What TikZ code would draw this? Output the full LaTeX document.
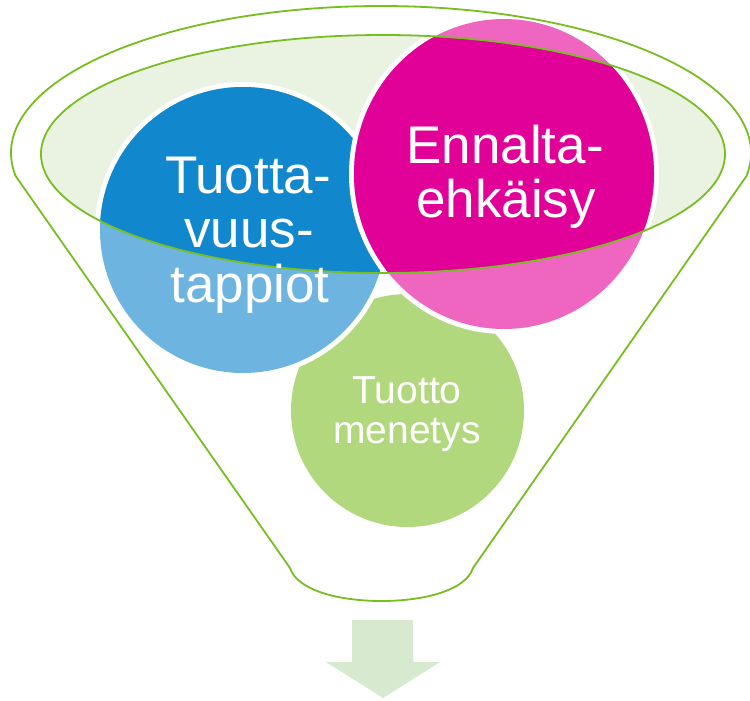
\documentclass[tikz,border=0pt]{standalone}
\usepackage{fontspec}
\setmainfont{Liberation Sans}
\definecolor{bluedark}{HTML}{1187CE}
\definecolor{bluelight}{HTML}{6EB4E1}
\definecolor{pinkdark}{HTML}{E10098}
\definecolor{pinklight}{HTML}{EE66C0}
\definecolor{greenc}{HTML}{B1D87C}
\definecolor{ellfill}{HTML}{EAF2E2}
\definecolor{linegreen}{HTML}{78BE20}
\definecolor{arrowc}{HTML}{D7E9CF}
\tikzset{
  funnelline/.style={draw=linegreen, line width=1.8pt, line join=round},
  bigtext/.style={text=white, inner sep=0pt, anchor=base, font=\fontsize{53}{53}\selectfont},
  smalltext/.style={text=white, inner sep=0pt, anchor=base, font=\fontsize{39}{39}\selectfont}
}
\begin{document}
\begin{tikzpicture}[x=1pt,y=-1pt]
\useasboundingbox (0,0) rectangle (750,701);
\fill[white] (0,0) rectangle (750,701);
% arrow
\fill[arrowc] (352,620) -- (413,620) -- (413,662) -- (440,662) -- (383,698) -- (326,662) -- (352,662) -- cycle;
% inner ellipse fill
\fill[ellfill] (383,154) ellipse[x radius=342pt, y radius=119pt];
% green circle
\fill[greenc] (407.5,410.5) circle[radius=116.5pt];
% blue circle
\fill[white] (243,230) circle[radius=148pt];
\fill[bluelight] (243,230) circle[radius=143pt];
\begin{scope}
  \clip (383,154) ellipse[x radius=342pt, y radius=119pt];
  \fill[bluedark] (243,230) circle[radius=143pt];
\end{scope}
% pink circle
\fill[white] (504,174) ellipse[x radius=155pt, y radius=160pt];
\fill[pinklight] (504,174) ellipse[x radius=150pt, y radius=155pt];
\begin{scope}
  \clip (383,154) ellipse[x radius=342pt, y radius=119pt];
  \fill[pinkdark] (504,174) ellipse[x radius=150pt, y radius=155pt];
\end{scope}
% inner ellipse border
\draw[funnelline] (383,154) ellipse[x radius=342pt, y radius=119pt];
% funnel outline
\draw[funnelline] (15.6,176) arc[start angle=189, end angle=-9, x radius=370pt, y radius=147pt]
  -- (473,568) .. controls (466,590) and (425,601) .. (381.5,601)
  .. controls (338,601) and (297,590) .. (290,568) -- cycle;
% texts
\node[bigtext] (t1) at (248,193) {Tuotta-};
\node[bigtext] (t2) at (249,247) {vuus-};
\node[bigtext] (t3) at (250,302) {tappiot};
\node[bigtext] (e1) at (505,163) {Ennalta-};
\node[bigtext] (e2) at (506,217) {ehkäisy};
\node[smalltext] (g1) at (407,403) {Tuotto};
\node[smalltext] (g2) at (407,443) {menetys};
\end{tikzpicture}
\end{document}
